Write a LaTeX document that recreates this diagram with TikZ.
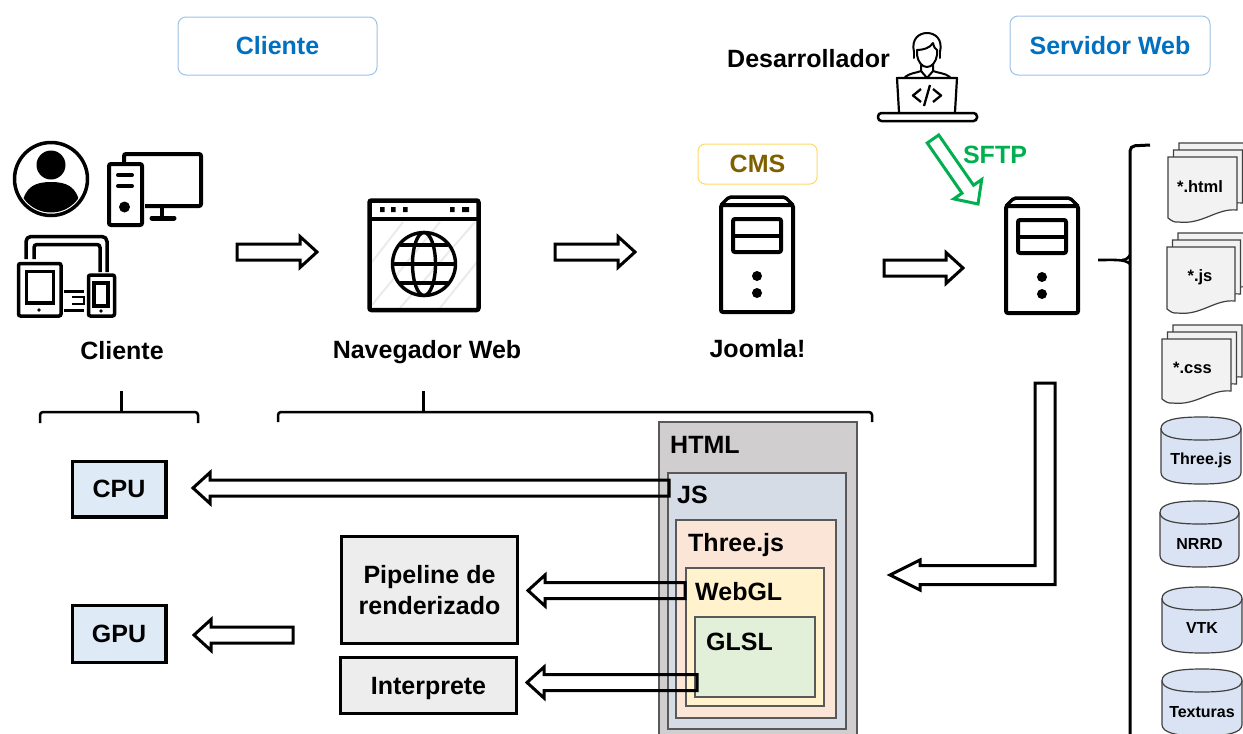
\documentclass[tikz,border=0pt]{standalone}
\usepackage{fontspec}
\setmainfont{Liberation Sans}
\usetikzlibrary{calc}
\definecolor{cblue}{HTML}{0070C0}
\definecolor{cblueb}{HTML}{9DC3E6}
\definecolor{cgold}{HTML}{7F6000}
\definecolor{cgoldb}{HTML}{FFD966}
\definecolor{cgreen}{HTML}{00B050}
\definecolor{chtml}{HTML}{D0CECE}
\definecolor{cjs}{HTML}{D6DCE5}
\definecolor{cthree}{HTML}{FBE5D6}
\definecolor{cwebgl}{HTML}{FFF2CC}
\definecolor{cglsl}{HTML}{E2F0D9}
\definecolor{cbox}{HTML}{DEEBF7}
\definecolor{cgrey}{HTML}{EDEDED}
\definecolor{cpage}{HTML}{F2F2F2}
\definecolor{ccyl}{HTML}{DAE3F3}
\definecolor{cedge}{HTML}{595959}
\newcommand{\txtL}{\fontsize{25}{31}\selectfont\bfseries}
\newcommand{\txtS}{\fontsize{16.5}{20}\selectfont\bfseries}
\tikzset{
  lab/.style={inner sep=0pt,font=\txtL,text=black},
  small/.style={inner sep=0pt,font=\txtS,text=black},
  toptitle/.style={draw=cblueb,line width=1pt,rounded corners=8pt,font=\txtL,text=cblue,inner sep=0pt},
  procbox/.style={draw=black,line width=3.5pt,font=\txtL,inner sep=0pt,align=center},
  layer/.style={draw=cedge,line width=1.2pt},
  blockarrow/.style={draw=black,line width=3pt,miter limit=6},
  greenarrow/.style={draw=cgreen,line width=3pt,miter limit=6},
  bracket/.style={draw=black,line width=2.5pt,rounded corners=3pt},
  icon/.style={draw=black,line width=4pt,rounded corners=2pt},
  thin icon/.style={draw=black,line width=2pt,line cap=round,line join=round},
  sheet/.style={draw=black!75,line width=1.2pt,fill=cpage},
  cyl/.style={draw=black!75,line width=1.2pt,fill=ccyl},
  serverpic/.pic={
    \draw[icon,line width=4pt] (1,9) rectangle (73,116);
    \draw[icon,line width=3.5pt] (1,9) -- (9,1) -- (65,1) -- (73,9);
    \draw[icon,line width=4pt] (13,23) rectangle (61,56);
    \draw[draw=black,line width=3.5pt] (13,40) -- (61,40);
    \fill (37,80) circle[radius=5];
    \fill (37,97) circle[radius=5];
  }
}
% start, end, half shaft, head length, half head
\newcommand{\hollow}[6]{%
  \coordinate (hb) at ($(#3)!#5pt!(#2)$);
  \draw[#1] ($(#2)!#4pt!90:(#3)$) -- ($(hb)!#4pt!90:(#3)$) -- ($(hb)!#6pt!90:(#3)$) -- (#3)
    -- ($(hb)!#6pt!-90:(#3)$) -- ($(hb)!#4pt!-90:(#3)$) -- ($(#2)!#4pt!-90:(#3)$) -- cycle;}
% name, x0, x1, y0, y1, caption, caption x
\newcommand{\sheets}[7]{%
  \foreach \dx/\dy in {11/-14,5.5/-7,0/0}{
    \begin{scope}[shift={(\dx,\dy)}]
      \draw[sheet] (#2,#4) -- (#3,#4) -- (#3,#5-12)
        .. controls ({#3-0.3*(#3-#2)},#5-14) and ({#2+0.5*(#3-#2)},#5+3) .. ({#2+0.15*(#3-#2)},#5)
        .. controls ({#2+0.08*(#3-#2)},#5) .. (#2,#5-4) -- cycle;
    \end{scope}}
  \node[small] (#1) at (#7,{(#4+#5)/2-3}) {#6};}
% name, x0, x1, y0, y1, caption, caption y
\newcommand{\barrel}[7]{%
  \draw[cyl] (#2,#4+11.5) .. controls (#2,#4+3) and ({#2+15},#4) .. ({(#2+#3)/2},#4)
    .. controls ({#3-15},#4) and (#3,#4+3) .. (#3,#4+11.5) -- (#3,#5-11.5)
    .. controls (#3,#5-3) and ({#3-15},#5) .. ({(#2+#3)/2},#5)
    .. controls ({#2+15},#5) and (#2,#5-3) .. (#2,#5-11.5) -- cycle;
  \draw[draw=black!75,line width=1.2pt] (#2,#4+11.5) .. controls (#2,#4+20) and ({#2+15},#4+23) .. ({(#2+#3)/2},#4+23)
    .. controls ({#3-15},#4+23) and (#3,#4+20) .. (#3,#4+11.5);
  \node[font=\fontsize{16}{20}\selectfont\bfseries,inner sep=0pt] (#1) at ({(#2+#3)/2},#7) {#6};}
\begin{document}
\begin{tikzpicture}[x=1pt,y=-1pt]
\useasboundingbox (0,0) rectangle (1243,734);
\clip (0,0) rectangle (1243,734);
\fill[white] (0,0) rectangle (1243,734);

% titles
\node[toptitle,minimum width=199,minimum height=58] (tcliente) at (277.5,46) {Cliente};
\node[toptitle,minimum width=200,minimum height=59] (tservidor) at (1110,45.5) {Servidor Web};
\node[draw=cgoldb,line width=1pt,rounded corners=7pt,minimum width=119,minimum height=40,inner sep=0pt,font=\txtL,text=cgold] (cms) at (757.5,164) {CMS};

% client icons
\draw[black,line width=3.5pt] (51,179) circle[radius=36.5];
\fill (51,165) circle[radius=14.5];
\begin{scope}
  \clip (51,179) circle[radius=33.5];
  \fill (22,205) .. controls (25,186) and (36,182) .. (51,182) .. controls (66,182) and (77,186) .. (80,205) -- (80,220) -- (22,220) -- cycle;
\end{scope}
\draw[icon] (124,163) -- (124,154) -- (201,154) -- (201,206) -- (145,206);
\draw[icon] (109,164) rectangle (142,225);
\draw[black,line width=4pt,line cap=round] (118,175) -- (132,175) (118,186) -- (132,186);
\fill (124.5,207) circle[radius=5.5];
\draw[black,line width=4pt] (162,208) -- (162,217);
\draw[black,line width=5pt,line cap=round] (152,218) -- (174,218);
\draw[icon,line width=3.5pt] (18.5,263.5) rectangle (61,316);
\draw[black,line width=3.5pt] (26.5,271.5) rectangle (53.5,303);
\fill (39,310) circle[radius=1.8];
\draw[icon,line width=3.5pt] (88.5,275) rectangle (114.5,316);
\draw[black,line width=3.5pt] (94,283) rectangle (108,306);
\fill (101,311) circle[radius=1.8];
\draw[black,line width=3.5pt,rounded corners=5pt] (26,259) -- (26,236.5) -- (107,236.5) -- (107,272);
\draw[black,line width=3.5pt,rounded corners=3pt] (34,259) -- (34,244.5) -- (100,244.5) -- (100,272);
\draw[black,line width=3pt] (64,291) -- (84,291) (64,310) -- (84,310);
\draw[black,line width=2.5pt] (72,297) -- (84,297) (72,304) -- (84,304) (84,296) -- (84,305);
\node[lab] (lcliente) at (122,351) {Cliente};

% browser icon
\begin{scope}[draw=black!8,line width=2pt]
  \draw (372,262) -- (403,222) (372,305) -- (440,222) (400,308) -- (475,222) (440,308) -- (477,262);
\end{scope}
\draw[icon,line width=4.5pt] (369.5,200.5) rectangle (478.5,310);
\draw[black,line width=4pt] (369,219) -- (479,219);
\fill (380,207) rectangle (384.5,212) (391,207) rectangle (395.5,212) (403,207) rectangle (407.5,212) (450,207) rectangle (454.5,212) (462,207) rectangle (469,212);
\draw[black,line width=3.4pt] (424,264) circle[radius=31.5];
\draw[black,line width=3.4pt] (424,264) ellipse[x radius=11.5,y radius=31.5];
\draw[black,line width=3.4pt] (400,245) -- (448,245) (393,264) -- (455,264) (400,283) -- (448,283);
\node[lab] (lnav) at (427,352) {Navegador Web};

% servers
\pic at (720,196) {serverpic};
\pic at (1005,197) {serverpic};
\node[lab] (ljoomla) at (757.5,349) {Joomla!};

% developer
\node[lab] (ldev) at (808.5,59) {Desarrollador};
\begin{scope}[thin icon]
  \draw (917,50) -- (917,55) .. controls (918,62) and (922,67) .. (927,67) .. controls (932,67) and (936,62) .. (937,55) -- (937,50);
  \draw (917,50) .. controls (923,50) and (930,48) .. (933,43) .. controls (934,47) and (935,49) .. (937,50);
  \draw (914,52) .. controls (911,39) and (919,33) .. (927,33) .. controls (935,33) and (943,39) .. (940,52);
  \draw (914,51) -- (914,58) (940,51) -- (940,58);
  \draw (905,77) .. controls (910,73) and (916,73) .. (921,71) -- (921,65) (950,77) .. controls (945,73) and (938,73) .. (933,71) -- (933,65);
  \draw (921,71) -- (927,78) -- (933,71);
\end{scope}
\draw[black,line width=2.2pt,line join=round] (899,112) -- (897,78) -- (957,78) -- (955,112);
\draw[black,line width=2.5pt,rounded corners=3.5pt] (878,113) rectangle (977,121);
\draw[black,line width=2.3pt,line join=round] (921,89) -- (913,95.5) -- (921,102) (933,89) -- (941,95.5) -- (933,102) (930,85) -- (924,106);

% sftp
\node[inner sep=0pt,font=\txtL,text=cgreen] (lsftp) at (995,155) {SFTP};
\coordinate (sftpA) at (933,139);
\coordinate (sftpB) at (978,204);
\hollow{greenarrow}{sftpA}{sftpB}{7}{18}{17}

% block arrows, top row
\coordinate (a1s) at (237,252);
\coordinate (a1e) at (317,252);
\coordinate (a2s) at (555,252);
\coordinate (a2e) at (635,252);
\coordinate (a3s) at (884,268);
\coordinate (a3e) at (963,268);
\hollow{blockarrow}{a1s}{a1e}{8}{17}{15.5}
\hollow{blockarrow}{a2s}{a2e}{8}{17}{15.5}
\hollow{blockarrow}{a3s}{a3e}{8}{17}{15.5}

% brackets
\coordinate (bl1) at (40,423);
\coordinate (bl2) at (198,423);
\coordinate (bls) at (121,391);
\coordinate (bn1) at (278,422);
\coordinate (bn2) at (872,422);
\coordinate (bns) at (423,391);
\draw[bracket] (bl1) -- (40,412) -- (198,412) -- (bl2);
\draw[black,line width=3pt] (bls) -- (121,412);
\draw[bracket] (bn1) -- (278,412) -- (872,412) -- (bn2);
\draw[black,line width=3pt] (bns) -- (423,412);
\coordinate (bra) at (1150,145);
\coordinate (brm) at (1098,260);
\draw[black,line width=3pt,rounded corners=5pt] (bra) -- (1130,146) -- (1130,734);
\draw[black,line width=2.6pt] (brm) .. controls (1115,260) and (1125,259) .. (1130,264);
\draw[black,line width=2.6pt] (1122,260) .. controls (1126,260) and (1128,258) .. (1130,255);

% layers
\draw[layer,fill=chtml] (659,422) rectangle (857,740);
\draw[layer,fill=cjs] (668,473) rectangle (846,729);
\draw[layer,fill=cthree] (676,520) rectangle (836,718);
\draw[layer,fill=cwebgl] (686,568) rectangle (824,706);
\draw[layer,fill=cglsl] (695,617) rectangle (815,697);
\node[lab,anchor=west] (lhtml) at (670,445) {HTML};
\node[lab,anchor=west] (ljs) at (677,495) {JS};
\node[lab,anchor=west] (lthree) at (688,545) {Three.js};
\node[lab,anchor=west] (lwebgl) at (695,592) {WebGL};
\node[lab,anchor=west] (lglsl) at (706,642) {GLSL};

% process boxes
\node[procbox,fill=cbox,minimum width=93.5,minimum height=55.5] (cpu) at (119,489) {CPU};
\node[procbox,fill=cbox,minimum width=93.5,minimum height=57] (gpu) at (119,634) {GPU};
\node[procbox,fill=cgrey,minimum width=176,minimum height=107] (pipe) at (429.5,590) {Pipeline de\\renderizado};
\node[procbox,fill=cgrey,minimum width=176,minimum height=56,text height=17.5pt,text depth=0pt] (inter) at (428.5,685.5) {Interprete};

% block arrows, lower part
\coordinate (a4s) at (669,488);
\coordinate (a4e) at (193,488);
\coordinate (a5s) at (685,590.5);
\coordinate (a5e) at (528,590.5);
\coordinate (a6s) at (697,682.5);
\coordinate (a6e) at (527,682.5);
\coordinate (a7s) at (293,635);
\coordinate (a7e) at (194,635);
\hollow{blockarrow}{a4s}{a4e}{8}{17}{15.5}
\hollow{blockarrow}{a5s}{a5e}{8}{17}{15.5}
\hollow{blockarrow}{a6s}{a6e}{8}{17}{15.5}
\hollow{blockarrow}{a7s}{a7e}{8}{17}{15.5}

% bent arrow
\coordinate (bentA) at (1045,383);
\coordinate (bentTip) at (890,575);
\draw[blockarrow] (1035,383) -- (1055,383) -- (1055,584.5) -- (920,584.5) -- (920,590) -- (bentTip) -- (920,560) -- (920,565.5) -- (1035,565.5) -- cycle;

% file stacks
\sheets{fhtml}{1168}{1237}{157}{222}{*.html}{1200}
\sheets{fjs}{1167}{1235}{247}{313}{*.js}{1200}
\sheets{fcss}{1162}{1231}{339}{403}{*.css}{1192.5}

% data stores
\barrel{dthree}{1161}{1241}{417}{484}{Three.js}{460}
\barrel{dnrrd}{1160}{1239}{501}{567}{NRRD}{544}
\barrel{dvtk}{1162}{1242}{587}{653}{VTK}{628}
\barrel{dtex}{1162}{1242}{669}{736}{Texturas}{712}
\end{tikzpicture}
\end{document}
